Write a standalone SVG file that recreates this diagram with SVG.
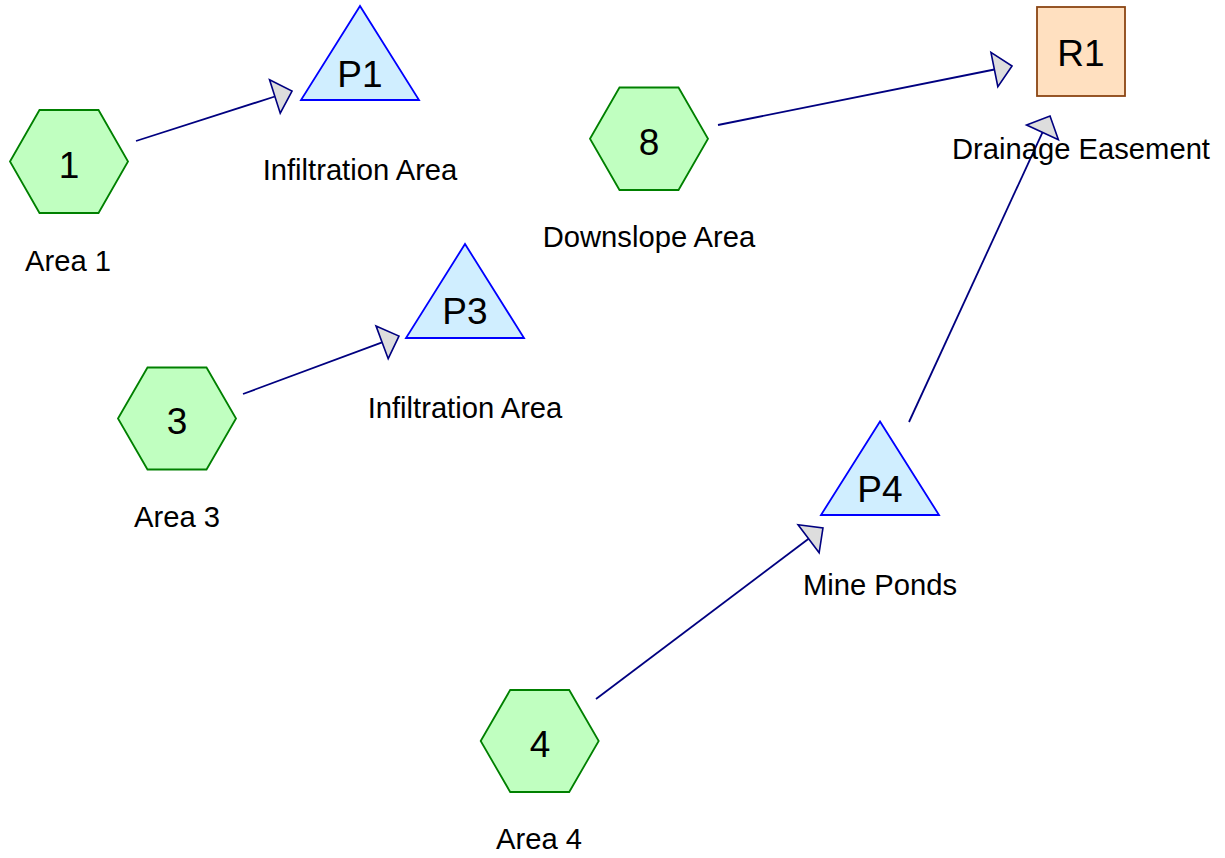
<svg xmlns="http://www.w3.org/2000/svg" width="1225" height="858" viewBox="0 0 1225 858">
  <style>
    .hex { fill: #c0ffc0; stroke: #008000; stroke-width: 1.8; }
    .tri { fill: #d0eeff; stroke: #0000ff; stroke-width: 1.8; }
    .res { fill: #ffe0c0; stroke: #8b4513; stroke-width: 1.8; }
    .id { font-family: "Liberation Sans", Arial, sans-serif; font-size: 37px; fill: #000; text-anchor: middle; }
    .lbl { font-family: "Liberation Sans", Arial, sans-serif; font-size: 29.2px; fill: #000; text-anchor: middle; }
    .edge { stroke: #000080; stroke-width: 1.8; fill: none; marker-end: url(#arrow); }
  </style>
  <defs>
    <marker id="arrow" markerUnits="userSpaceOnUse" viewBox="-2 -20 22 40" markerWidth="22" markerHeight="40" refX="0" refY="0" orient="auto" overflow="visible">
      <path d="M0,-17.5 L18,0 L0,17.5 Z" fill="#dddddd" stroke="#000080" stroke-width="1.6" stroke-linejoin="miter"/>
    </marker>
  </defs>
  <rect width="1225" height="858" fill="#ffffff"/>

  <g id="connectors">
    <line class="edge" x1="136" y1="141" x2="274.9" y2="96.5"/>
    <line class="edge" x1="243" y1="394" x2="382.1" y2="342.3"/>
    <line class="edge" x1="718" y1="125" x2="994.4" y2="69.5"/>
    <line class="edge" x1="596" y1="699" x2="808.6" y2="538.8"/>
    <line class="edge" x1="909" y1="422" x2="1042.5" y2="132.3"/>
  </g>

  <g id="node-1">
    <polygon class="hex" points="10,161.5 39.5,110 98.5,110 128,161.5 98.5,213 39.5,213"/>
    <text class="id" x="69" y="178">1</text>
    <text class="lbl" x="68" y="271">Area 1</text>
  </g>
  <g id="node-3">
    <polygon class="hex" points="118,418.5 147.5,367.5 206.5,367.5 236,418.5 206.5,469.5 147.5,469.5"/>
    <text class="id" x="177" y="434">3</text>
    <text class="lbl" x="177" y="527">Area 3</text>
  </g>
  <g id="node-8">
    <polygon class="hex" points="590,138.7 619.5,87.5 678.5,87.5 708,138.7 678.5,190 619.5,190"/>
    <text class="id" x="649" y="155">8</text>
    <text class="lbl" x="649" y="247">Downslope Area</text>
  </g>
  <g id="node-4">
    <polygon class="hex" points="480.7,741 510.2,690 569.2,690 598.7,741 569.2,792 510.2,792"/>
    <text class="id" x="540" y="757">4</text>
    <text class="lbl" x="539" y="849">Area 4</text>
  </g>
  <g id="node-P1">
    <polygon class="tri" points="360,6 301,100 419,100"/>
    <text class="id" x="360" y="87">P1</text>
    <text class="lbl" x="360" y="180">Infiltration Area</text>
  </g>
  <g id="node-P3">
    <polygon class="tri" points="465,244 406,338 524,338"/>
    <text class="id" x="465" y="324">P3</text>
    <text class="lbl" x="465" y="418">Infiltration Area</text>
  </g>
  <g id="node-P4">
    <polygon class="tri" points="880,421.5 821,515 939,515"/>
    <text class="id" x="880" y="502">P4</text>
    <text class="lbl" x="880" y="595">Mine Ponds</text>
  </g>
  <g id="node-R1">
    <rect class="res" x="1037" y="7" width="88" height="89"/>
    <text class="id" x="1081" y="66">R1</text>
    <text class="lbl" x="1081" y="159">Drainage Easement</text>
  </g>
</svg>
